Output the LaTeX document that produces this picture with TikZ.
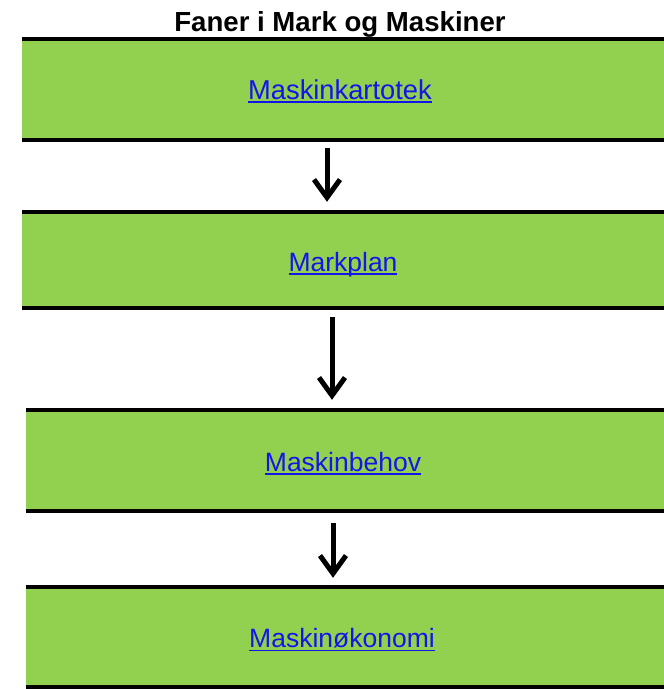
\documentclass[tikz,border=0pt]{standalone}
\usepackage{fontspec}
\setmainfont{Liberation Sans}
\usetikzlibrary{arrows.meta}
\definecolor{boxgreen}{HTML}{92D050}
\definecolor{linkblue}{RGB}{20,20,235}
\newcommand{\lnk}[1]{\setbox0=\hbox{#1}\leavevmode\rlap{\copy0}\raisebox{-3.8pt}{\rule{\wd0}{1.8pt}}}
\begin{document}
\begin{tikzpicture}[x=1pt,y=-1pt,
  box/.style={fill=boxgreen,draw=none,inner sep=0pt,minimum height=#1},
  edge/.style={line width=3.8pt,black},
  linktxt/.style={anchor=base,inner sep=0pt,text=linkblue,font=\fontsize{26.5}{30}\selectfont},
  arr/.style={line width=5pt,-{Straight Barb[length=18pt,width=26pt]}}]
\useasboundingbox (0,0) rectangle (664,689);
\fill[white] (0,0) rectangle (664,689);
% title
\node[anchor=base,inner sep=0pt,font=\fontsize{27.6}{30}\selectfont\bfseries] (title) at (340,31.5) {Faner i Mark og Maskiner};
% boxes
\node[box=100pt,minimum width=642pt] (b1) at (343,89.5) {};
\node[box=95.5pt,minimum width=642pt] (b2) at (343,259.75) {};
\node[box=100pt,minimum width=638pt] (b3) at (345,460.5) {};
\node[box=100pt,minimum width=638pt] (b4) at (345,637) {};
\foreach \b in {b1,b2,b3,b4}{
  \draw[edge] (\b.north west) -- (\b.north east);
  \draw[edge] (\b.south west) -- (\b.south east);
}
% texts
\node[linktxt,font=\fontsize{27.3}{30}\selectfont] (t1) at (340,99) {\lnk{Maskinkartotek}};
\node[linktxt] (t2) at (343,271) {\lnk{Markplan}};
\node[linktxt] (t3) at (343,471) {\lnk{Maskinbehov}};
\node[linktxt] (t4) at (342,647.5) {\lnk{Maskinøkonomi}};
% arrows
\coordinate (x1) at (327,0);
\coordinate (x2) at (332,0);
\coordinate (x3) at (333,0);
\draw[arr,shorten <=8.5pt,shorten >=10pt] (b1.south -| x1) -- (b2.north -| x1);
\draw[arr,shorten <=9.5pt,shorten >=10.5pt] (b2.south -| x2) -- (b3.north -| x2);
\draw[arr,shorten <=12.5pt,shorten >=9pt] (b3.south -| x3) -- (b4.north -| x3);
\end{tikzpicture}
\end{document}
